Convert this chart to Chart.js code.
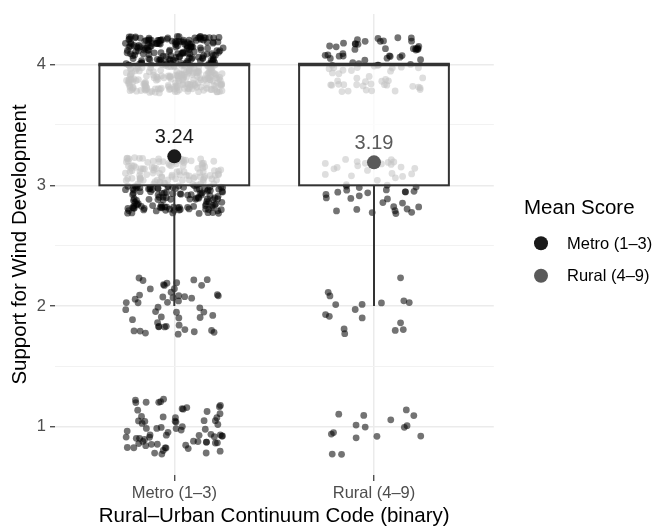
<!DOCTYPE html>
<html>
<head>
<meta charset="utf-8">
<script src="https://cdn.jsdelivr.net/npm/chart.js@4.4.1/dist/chart.umd.min.js"></script>
<style>
  html, body { margin: 0; padding: 0; background: #ffffff; }
  #wrap { width: 654px; height: 529px; position: relative; }
</style>
</head>
<body>
<div id="wrap"><canvas id="chart"></canvas></div>
<script>
// ---- data ----
const categories = ['Metro (1–3)', 'Rural (4–9)'];
const responseLevels = [1, 2, 3, 4];
const metroCounts = [70, 50, 230, 360];   // respondents per response level
const ruralCounts = [16, 17, 50, 80];
const meanScores = [3.24, 3.19];
const meanLabels = ['3.24', '3.19'];
const boxQ1 = [3, 3];
const boxMedian = [4, 4];
const boxQ3 = [4, 4];
const whiskerLow = [2, 2];
const whiskerHigh = [4, 4];
const yTickValues = [1, 2, 3, 4];
const groupColors = ['#1a1a1a', '#5a5a5a'];

// ---- styling constants ----
const FONT = '"Liberation Sans", Arial, Helvetica, sans-serif';
const JITTER_W = 0.245;
const JITTER_H = 0.235;
const BOX_HALF = 0.375;

// deterministic jitter (seeded), so each response sits as a small cloud around its level
function seededJitter(seed) {
  let t = seed >>> 0;
  return function () {
    t += 0x6D2B79F5;
    let r = Math.imul(t ^ (t >>> 15), 1 | t);
    r ^= r + Math.imul(r ^ (r >>> 7), 61 | r);
    return ((r ^ (r >>> 14)) >>> 0) / 4294967296;
  };
}

const jitterPoints = [];
[metroCounts, ruralCounts].forEach((counts, g) => {
  const rnd = seededJitter(1701 + g * 7919);
  counts.forEach((n, k) => {
    for (let i = 0; i < n; i++) {
      jitterPoints.push({
        x: g + 1 + (rnd() * 2 - 1) * JITTER_W,
        y: responseLevels[k] + (rnd() * 2 - 1) * JITTER_H
      });
    }
  });
});

const meanPoints = meanScores.map((m, i) => ({ x: i + 1, y: m }));

// boxes and whiskers, drawn over the jittered responses
const boxPlugin = {
  id: 'boxes',
  afterDatasetDraw(chart, args) {
    if (args.index !== 0) return;
    const { ctx, scales: { x, y } } = chart;
    ctx.save();
    categories.forEach((c, i) => {
      const xc = x.getPixelForValue(i + 1);
      const xl = x.getPixelForValue(i + 1 - BOX_HALF);
      const xr = x.getPixelForValue(i + 1 + BOX_HALF);
      const yq1 = y.getPixelForValue(boxQ1[i]);
      const yq3 = y.getPixelForValue(boxQ3[i]);
      const ym = y.getPixelForValue(boxMedian[i]);
      ctx.strokeStyle = '#333333';
      ctx.lineWidth = 2;
      ctx.beginPath();
      ctx.moveTo(xc, yq1); ctx.lineTo(xc, y.getPixelForValue(whiskerLow[i]));
      ctx.moveTo(xc, yq3); ctx.lineTo(xc, y.getPixelForValue(whiskerHigh[i]));
      ctx.stroke();
      ctx.fillStyle = 'rgba(255,255,255,0.76)';
      ctx.fillRect(xl, yq3, xr - xl, yq1 - yq3);
      ctx.strokeRect(xl, yq3, xr - xl, yq1 - yq3);
      ctx.lineWidth = 3.5;
      ctx.beginPath();
      ctx.moveTo(xl - 1, ym); ctx.lineTo(xr + 1, ym);
      ctx.stroke();
    });
    ctx.restore();
  }
};

// mean labels and the legend
const annotatePlugin = {
  id: 'annotate',
  afterDatasetsDraw(chart) {
    const { ctx, scales: { x, y } } = chart;
    ctx.save();
    ctx.textAlign = 'center';
    ctx.textBaseline = 'alphabetic';
    ctx.font = '20px ' + FONT;
    meanScores.forEach((m, i) => {
      ctx.fillStyle = groupColors[i];
      ctx.fillText(meanLabels[i], x.getPixelForValue(i + 1), y.getPixelForValue(m) - 13.5);
    });

    ctx.textAlign = 'left';
    ctx.fillStyle = '#000000';
    ctx.font = '20.5px ' + FONT;
    ctx.fillText('Mean Score', 524, 214);
    ctx.font = '16.5px ' + FONT;
    categories.forEach((c, i) => {
      const cy = 243.3 + i * 32.4;
      ctx.fillStyle = groupColors[i];
      ctx.beginPath();
      ctx.arc(541, cy, 7, 0, Math.PI * 2);
      ctx.fill();
      ctx.fillStyle = '#000000';
      ctx.fillText(c, 567, cy + 5.2);
    });
    ctx.restore();
  }
};

new Chart(document.getElementById('chart'), {
  type: 'scatter',
  data: {
    datasets: [
      {
        label: 'Responses',
        data: jitterPoints,
        pointRadius: 3.4,
        pointHoverRadius: 3.4,
        backgroundColor: 'rgba(0,0,0,0.55)',
        borderWidth: 0,
        order: 2
      },
      {
        label: 'Mean Score',
        data: meanPoints,
        pointRadius: 7,
        pointHoverRadius: 7,
        backgroundColor: groupColors,
        borderWidth: 0,
        order: 1
      }
    ]
  },
  options: {
    responsive: true,
    maintainAspectRatio: false,
    animation: false,
    events: [],
    layout: { padding: { top: 10, right: 160.2, bottom: 0, left: 0 } },
    plugins: { legend: { display: false }, tooltip: { enabled: false } },
    scales: {
      x: {
        type: 'linear',
        min: 0.4,
        max: 2.6,
        afterBuildTicks: (s) => { s.ticks = categories.map((c, i) => ({ value: i + 1 })); },
        afterFit: (s) => { s.height = 54; },
        border: { display: false },
        grid: { color: '#ebebeb', lineWidth: 1.5, tickColor: '#333333', tickWidth: 1.2, tickLength: 6 },
        ticks: {
          callback: (v) => categories[Math.round(v) - 1],
          color: '#4d4d4d',
          font: { family: FONT, size: 16.5 },
          padding: 3,
          maxRotation: 0
        },
        title: {
          display: true,
          text: 'Rural–Urban Continuum Code (binary)',
          color: '#000000',
          font: { family: FONT, size: 20.5 },
          padding: { top: 0, bottom: 0 }
        }
      },
      y: {
        type: 'linear',
        min: 0.6,
        max: 4.42,
        afterBuildTicks: (s) => {
          const t = [];
          for (let v = 1; v <= 4; v += 0.5) t.push({ value: v });
          s.ticks = t;
        },
        afterFit: (s) => { s.width = 54.5; },
        border: { display: false },
        grid: {
          color: (c) => (Number.isInteger(c.tick.value) ? '#ebebeb' : '#f2f2f2'),
          lineWidth: (c) => (Number.isInteger(c.tick.value) ? 1.5 : 1),
          tickColor: (c) => (Number.isInteger(c.tick.value) ? '#333333' : 'rgba(0,0,0,0)'),
          tickWidth: 1.2,
          tickLength: 4.5
        },
        ticks: {
          callback: (v) => (yTickValues.includes(v) ? String(v) : ''),
          color: '#4d4d4d',
          font: { family: FONT, size: 16.5 },
          padding: 4
        },
        title: {
          display: true,
          text: 'Support for Wind Development',
          color: '#000000',
          font: { family: FONT, size: 20.5 },
          padding: { top: 8, bottom: 0 }
        }
      }
    }
  },
  plugins: [boxPlugin, annotatePlugin]
});
</script>
</body>
</html>
